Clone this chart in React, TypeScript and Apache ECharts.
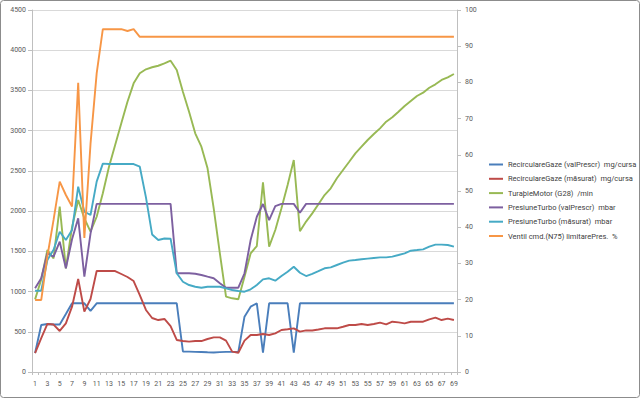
import React, { useEffect, useRef } from "react";
import * as echarts from "echarts";

const categories: string[] = Array.from({ length: 69 }, (_, i) => String(i + 1));

const seriesNames = [
  "RecirculareGaze (valPrescr)  mg/cursa",
  "RecirculareGaze (măsurat)  mg/cursa",
  "TuraþieMotor (G28)  /min",
  "PresiuneTurbo (valPrescr)  mbar",
  "PresiuneTurbo (măsurat)  mbar",
  "Ventil cmd.(N75) limitarePres.  %",
];

const recircPrescr = [
  236, 584, 597, 590, 590, 720, 854, 854, 854, 760,
  854, 854, 854, 854, 854, 854, 854, 854, 854, 854,
  854, 854, 854, 854, 255, 253, 250, 248, 245, 243,
  247, 250, 250, 250, 688, 812, 854, 240, 854, 854,
  854, 854, 240, 854, 854, 854, 854, 854, 854, 854,
  854, 854, 854, 854, 854, 854, 854, 854, 854, 854,
  854, 854, 854, 854, 854, 854, 854, 854, 854,
];

const recircMasurat = [
  236, 420, 597, 590, 510, 604, 812, 1156, 750, 907,
  1255, 1255, 1255, 1255, 1218, 1181, 1131, 957, 771, 671,
  646, 659, 570, 398, 385, 377, 385, 385, 410, 431,
  431, 390, 253, 240, 390, 460, 460, 472, 460, 481,
  522, 531, 543, 501, 518, 516, 528, 543, 543, 543,
  563, 584, 584, 597, 584, 597, 613, 592, 625, 617,
  605, 625, 625, 625, 655, 675, 646, 663, 646,
];

const turatieMotor = [
  903, 1150, 1516, 1413, 2055, 1289, 1800, 2138, 1910, 1744,
  1930, 2221, 2552, 2822, 3091, 3360, 3588, 3713, 3763, 3788,
  3807, 3837, 3870, 3754, 3484, 3236, 2967, 2801, 2532, 2035,
  1475, 936, 916, 904, 1185, 1475, 1566, 2358, 1558, 1765,
  2035, 2324, 2635, 1750, 1870, 1972, 2085, 2200, 2283, 2408,
  2511, 2614, 2718, 2801, 2884, 2958, 3029, 3112, 3166, 3236,
  3307, 3369, 3431, 3472, 3534, 3576, 3630, 3663, 3704,
];

const presiunePrescr = [
  1040, 1165, 1475, 1433, 1620, 1289, 1650, 1910, 1185, 1720,
  2090, 2090, 2090, 2090, 2090, 2090, 2090, 2090, 2090, 2090,
  2090, 2090, 2090, 1227, 1227, 1227, 1222, 1206, 1185, 1165,
  1103, 1048, 1048, 1048, 1227, 1641, 1930, 2088, 1889, 2063,
  2090, 2090, 2090, 1980, 2090, 2090, 2090, 2090, 2090, 2090,
  2090, 2090, 2090, 2090, 2090, 2090, 2090, 2090, 2090, 2090,
  2090, 2090, 2090, 2090, 2090, 2090, 2090, 2090, 2090,
];

const presiuneMasurat = [
  1010, 1010, 1392, 1520, 1744, 1641, 1765, 2303, 1993, 1952,
  2366, 2590, 2585, 2585, 2585, 2585, 2585, 2552, 2170, 1710,
  1641, 1660, 1657, 1227, 1122, 1081, 1060, 1048, 1060, 1060,
  1060, 1040, 1019, 1007, 998, 1028, 1081, 1152, 1165, 1135,
  1193, 1247, 1309, 1234, 1193, 1220, 1253, 1289, 1301, 1330,
  1359, 1384, 1392, 1401, 1409, 1417, 1425, 1425, 1434, 1454,
  1475, 1508, 1516, 1525, 1558, 1583, 1583, 1579, 1558,
];

const ventilCmd = [
  19.9, 19.9, 32, 42, 52.6, 48.9, 45.7, 79.9, 37, 63,
  82.5, 94.7, 94.7, 94.7, 94.7, 94.2, 94.7, 92.6, 92.6, 92.6,
  92.6, 92.6, 92.6, 92.6, 92.6, 92.6, 92.6, 92.6, 92.6, 92.6,
  92.6, 92.6, 92.6, 92.6, 92.6, 92.6, 92.6, 92.6, 92.6, 92.6,
  92.6, 92.6, 92.6, 92.6, 92.6, 92.6, 92.6, 92.6, 92.6, 92.6,
  92.6, 92.6, 92.6, 92.6, 92.6, 92.6, 92.6, 92.6, 92.6, 92.6,
  92.6, 92.6, 92.6, 92.6, 92.6, 92.6, 92.6, 92.6, 92.6,
];

const colors = ["#4A7EBB", "#BE4B48", "#98B954", "#7D60A0", "#46AAC5", "#F79646"];

export default function App() {
  const ref = useRef<HTMLDivElement>(null);
  useEffect(() => {
    if (!ref.current) return;
    const chart = echarts.init(ref.current, undefined, { renderer: "svg" });
    const font = "Roboto, sans-serif";
    const dataSets = [recircPrescr, recircMasurat, turatieMotor, presiunePrescr, presiuneMasurat, ventilCmd];
    chart.setOption({
      animation: false,
      textStyle: { fontFamily: font },
      grid: { left: 32, right: 183, top: 10, bottom: 27, containLabel: false },
      legend: {
        orient: "vertical",
        left: 489,
        top: 159,
        icon: "rect",
        itemWidth: 14,
        itemHeight: 2,
        itemGap: 3.3,
        padding: 0,
        textStyle: { fontSize: 7.5, color: "#404040", lineHeight: 11, fontFamily: font },
        data: seriesNames,
      },
      graphic: [
        {
          type: "rect",
          shape: { x: 0.5, y: 0.5, width: 639, height: 397, r: 3 },
          style: { fill: "none", stroke: "#8c8c8c", lineWidth: 1 },
          silent: true,
        },
      ],
      xAxis: {
        type: "category",
        boundaryGap: true,
        data: categories,
        axisLine: { lineStyle: { color: "#bfbfbf" } },
        axisTick: { show: true, interval: 0, length: 3, lineStyle: { color: "#bfbfbf" } },
        axisLabel: { interval: 1, fontSize: 7, color: "#595959", margin: 8, fontFamily: font },
      },
      yAxis: [
        {
          type: "value",
          min: 0,
          max: 4500,
          interval: 500,
          position: "left",
          axisLine: { show: true, lineStyle: { color: "#bfbfbf" } },
          axisTick: { show: true, length: 4, lineStyle: { color: "#bfbfbf" } },
          axisLabel: {
            fontSize: 7,
            color: "#595959",
            margin: 6,
            fontFamily: font,
            formatter: (v: number) => String(v),
          },
          splitLine: { show: true, lineStyle: { color: "#d9d9d9" } },
        },
        {
          type: "value",
          min: 0,
          max: 100,
          interval: 10,
          position: "right",
          axisLine: { show: true, lineStyle: { color: "#bfbfbf" } },
          axisTick: { show: true, length: 4, lineStyle: { color: "#bfbfbf" } },
          axisLabel: { fontSize: 7, color: "#595959", margin: 8, fontFamily: font },
          splitLine: { show: false },
        },
      ],
      series: seriesNames.map((name, idx) => ({
        name,
        type: "line",
        yAxisIndex: idx === 5 ? 1 : 0,
        data: dataSets[idx],
        symbol: "none",
        color: colors[idx],
        lineStyle: { width: 1.9, color: colors[idx] },
        z: 2 + idx,
      })),
    });
    return () => chart.dispose();
  }, []);
  return (
    <div
      ref={ref}
      style={{ position: "fixed", left: 0, top: 0, width: 640, height: 399, background: "#fff" }}
    />
  );
}
